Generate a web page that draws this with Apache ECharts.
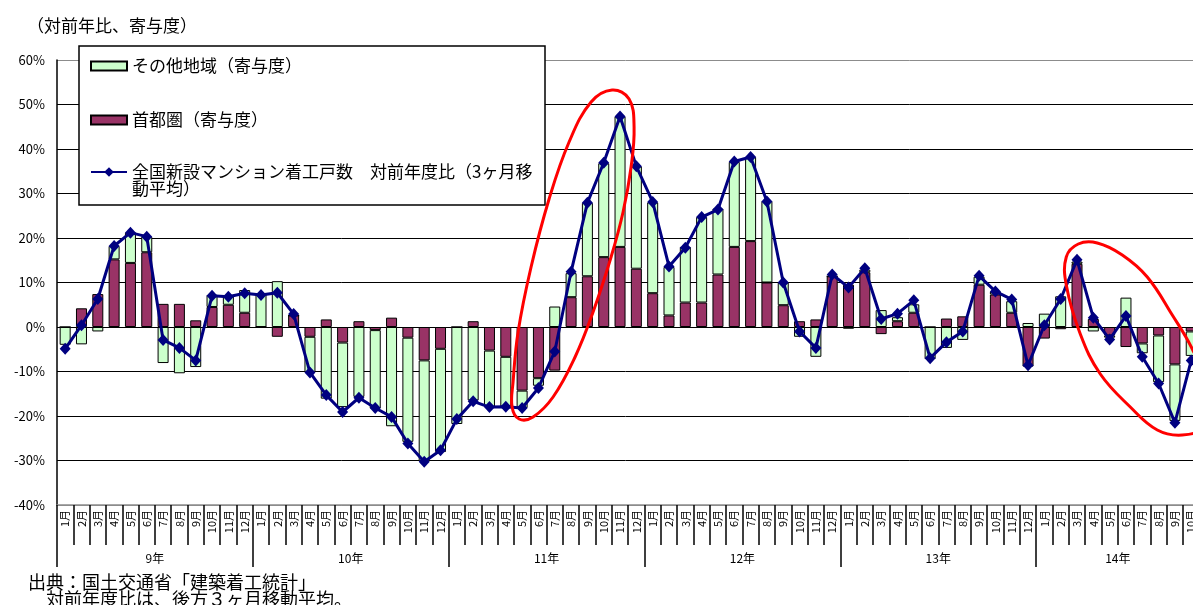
<!DOCTYPE html>
<html>
<head>
<meta charset="utf-8">
<script src="https://cdn.jsdelivr.net/npm/echarts@6/dist/echarts.min.js"></script>
<style>
  html, body { margin: 0; padding: 0; background: #ffffff; }
  #chart { width: 1193px; height: 605px; }
</style>
</head>
<body>
<div id="chart"></div>
<script>
// 年・月の区分（平成9年1月〜14年10月）
const yearNames = ['9年', '10年', '11年', '12年', '13年', '14年'];
const monthsPerYear = [12, 12, 12, 12, 12, 10];
const monthNames = ['1月', '2月', '3月', '4月', '5月', '6月', '7月', '8月', '9月', '10月', '11月', '12月'];

// 首都圏（寄与度, %）
const shutoken = [
  0.0, 4.2, 7.4, 15.2, 14.4, 16.8, 5.2, 5.2, 1.5, 4.5, 5.0, 3.2,
  0.0, -2.2, 2.6, -2.2, 1.7, -3.5, 1.3, -0.7, 2.1, -2.4, -7.5, -4.9,
  0.0, 1.3, -5.3, -6.7, -14.3, -11.5, -9.8, 6.7, 11.4, 15.7, 18.0, 13.1,
  7.6, 2.6, 5.5, 5.5, 11.8, 18.0, 19.3, 10.0, 4.9, 1.3, 1.7, 11.4,
  9.5, 12.3, -1.6, 1.3, 3.2, 0.0, 1.9, 2.4, 9.5, 7.3, 3.2, -8.9,
  -2.6, -0.5, 14.2, 1.8, -1.9, -4.5, -3.7, -1.9, -8.4, -1.0
];

// その他地域（寄与度, %）
const sonota = [
  -4.0, -3.9, -1.0, 3.0, 6.8, 3.5, -8.1, -10.4, -9.0, 2.7, 2.0, 5.1,
  7.5, 10.3, 0.0, -8.0, -16.1, -14.5, -15.7, -17.6, -22.3, -23.4, -22.7, -23.2,
  -21.8, -16.5, -12.7, -11.2, -3.9, -1.7, 4.6, 5.4, 16.5, 21.1, 29.3, 23.0,
  20.4, 10.9, 12.5, 19.2, 14.8, 19.1, 18.9, 18.3, 5.1, -2.2, -6.7, 0.0,
  -0.4, 0.6, 3.8, 0.9, 1.9, -7.2, -4.7, -2.9, 1.8, 0.7, 2.6, 0.9,
  3.0, 6.9, 0.5, -1.0, -0.5, 6.6, -2.2, -10.5, -12.7, -5.5
];

// 全国新設マンション着工戸数 対前年度比（3ヶ月移動平均, %）
const zenkoku = [
  -4.9, 0.4, 6.3, 18.2, 21.2, 20.3, -2.9, -4.7, -7.5, 7.0, 6.8, 7.6,
  7.2, 7.7, 2.9, -10.2, -15.3, -19.1, -15.9, -18.2, -20.2, -26.2, -30.3, -27.7,
  -20.7, -16.7, -18.0, -17.9, -18.2, -13.7, -5.5, 12.4, 27.9, 36.9, 47.3, 36.1,
  28.1, 13.6, 17.8, 24.7, 26.4, 37.2, 38.2, 28.2, 10.0, -1.0, -4.7, 11.8,
  8.9, 13.2, 1.8, 3.0, 6.0, -7.0, -3.4, -1.0, 11.5, 8.0, 6.2, -8.6,
  0.4, 6.3, 15.1, 2.1, -2.8, 2.5, -6.7, -12.7, -21.5, -7.5
];

// 縦軸目盛（%）
const yMin = -40, yMax = 60, yStep = 10;

const nameOther = 'その他地域（寄与度）';
const nameCapital = '首都圏（寄与度）';
const nameTotal = '全国新設マンション着工戸数　対前年度比（3ヶ月移動平均）';

const FONT = '"Noto Sans CJK JP", "Noto Sans", sans-serif';

// 月の区分（一意な名前: 年+月）と、年の区切り位置
const categories = [];
yearNames.forEach((y, yi) => {
  for (let m = 0; m < monthsPerYear[yi]; m++) categories.push(y + monthNames[m]);
});
const yearAxisPoints = new Array(categories.length + 1).fill('');
const yearStarts = [];
let start = 0;
yearNames.forEach((y, yi) => {
  yearStarts.push(start);
  yearAxisPoints[start + monthsPerYear[yi] / 2] = y;
  start += monthsPerYear[yi];
});

const splitColors = [];
for (let v = yMin; v <= yMax; v += yStep) {
  splitColors.push(v === yMin || v === yMax ? '#8c8c8c' : '#000000');
}

const chart = echarts.init(document.getElementById('chart'), null, { renderer: 'canvas' });

const legendText = { fontSize: 17, lineHeight: 17, color: '#000', fontFamily: FONT };

chart.setOption({
  animation: false,
  backgroundColor: '#ffffff',
  textStyle: { fontFamily: FONT },
  title: [
    { text: '（対前年比、寄与度）', left: 22, top: 12,
      textStyle: { fontSize: 17, fontWeight: 'normal', color: '#000', fontFamily: FONT } },
    { text: '出典：国土交通省「建築着工統計」', left: 28, top: 573, padding: 0,
      textStyle: { fontSize: 18, fontWeight: 'normal', color: '#000', fontFamily: FONT } },
    { text: '　対前年度比は、後方３ヶ月移動平均。', left: 28, top: 590, padding: 0,
      textStyle: { fontSize: 18, fontWeight: 'normal', color: '#000', fontFamily: FONT } }
  ],
  legend: [
    { left: 90, top: 57.5, padding: 0, selectedMode: false, z: 6,
      itemWidth: 36, itemHeight: 9,
      data: [{ name: nameOther, icon: 'rect' }],
      textStyle: legendText },
    { left: 90, top: 111.5, padding: 0, selectedMode: false, z: 6,
      itemWidth: 36, itemHeight: 9,
      data: [{ name: nameCapital, icon: 'rect' }],
      textStyle: legendText },
    { left: 90, top: 146.5, padding: 0, selectedMode: false, z: 6,
      itemWidth: 36, itemHeight: 12,
      data: [{ name: nameTotal }],
      // 先頭に空行を置き、記号を1行目の高さにそろえる
      formatter: (n) => '\n' + n.replace('移動', '移\n動'),
      textStyle: legendText }
  ],
  grid: { left: 57, top: 60, width: 1142.4, height: 445, outerBoundsMode: 'none', containLabel: false },
  xAxis: [
    {
      type: 'category', position: 'bottom', data: categories, boundaryGap: true,
      axisLine: { show: true, onZero: false, lineStyle: { color: '#8c8c8c', width: 1.5 } },
      axisTick: { show: true, interval: 0, length: 40, lineStyle: { color: '#000', width: 1.5 } },
      axisLabel: {
        interval: 0, rotate: 90, margin: 5, fontSize: 11, color: '#000', fontFamily: FONT,
        formatter: (v) => v.replace(/^\d+年/, '')
      },
      splitLine: { show: false }
    },
    {
      type: 'category', position: 'bottom', data: yearAxisPoints, boundaryGap: false,
      axisLine: { show: false, onZero: false },
      axisTick: { show: true, length: 62, interval: (i) => yearStarts.indexOf(i) >= 0,
                  lineStyle: { color: '#000', width: 1.5 } },
      axisLabel: { interval: 0, margin: 47, fontSize: 12, color: '#000', fontFamily: FONT },
      splitLine: { show: false }
    }
  ],
  yAxis: {
    type: 'value', min: yMin, max: yMax, interval: yStep,
    axisLine: { show: true, onZero: false, lineStyle: { color: '#000', width: 1.5 } },
    axisTick: { show: false },
    axisLabel: { margin: 12, fontSize: 13, color: '#000', fontFamily: FONT, formatter: '{value}%' },
    splitLine: { show: true, lineStyle: { color: splitColors, width: 1 } }
  },
  series: [
    {
      name: nameCapital, type: 'bar', stack: 'kiyo', data: shutoken, barWidth: 11,
      itemStyle: { color: '#993366', borderColor: '#000', borderWidth: 1 }
    },
    {
      name: nameOther, type: 'bar', stack: 'kiyo', data: sonota, barWidth: 11,
      itemStyle: { color: '#ccffcc', borderColor: '#000', borderWidth: 1 }
    },
    {
      name: nameTotal, type: 'line', data: zenkoku, z: 5,
      symbol: 'diamond', symbolSize: [11, 12], showSymbol: true, showAllSymbol: true,
      lineStyle: { color: '#000080', width: 3 },
      itemStyle: { color: '#000080' }
    }
  ]
});

// 凡例の枠と、注目区間を手書きで囲んだ赤い輪
// 輪の形は基準点（横軸の区分・縦軸0%の位置）からの相対座標で描く
const a1 = chart.convertToPixel({ xAxisIndex: 0, yAxisIndex: 0 }, [31, 0]);
const a2 = chart.convertToPixel({ xAxisIndex: 0, yAxisIndex: 0 }, [66, 0]);
const ring1 = [
  [41, -237], [58, -228], [63, -200], [60, -160], [52, -115], [40, -70], [22, -15],
  [4, 30], [-18, 70], [-38, 90], [-52, 92], [-59, 80], [-58, 55], [-53, 5],
  [-40, -60], [-22, -128], [-2, -185], [20, -225]
];
const ring2 = [
  [-45, -84], [-20, -72], [5, -50], [30, -12], [50, 22], [66, 62], [60, 100],
  [40, 108], [15, 103], [-12, 80], [-42, 47], [-62, 7], [-76, -42], [-76, -70], [-64, -83]
];
const shift = (anchor, pts) => pts.map(p => [anchor[0] + p[0], anchor[1] + p[1]]);

chart.setOption({
  graphic: [
    { id: 'legendFrame', type: 'rect', z: 3, silent: true,
      shape: { x: 79, y: 46, width: 466, height: 159 },
      style: { fill: '#ffffff', stroke: '#000', lineWidth: 1.5 } },
    { id: 'ring1', type: 'polygon', z: 20, silent: true,
      shape: { points: shift(a1, ring1), smooth: 0.4 },
      style: { fill: 'none', stroke: '#ff0000', lineWidth: 3 } },
    { id: 'ring2', type: 'polygon', z: 20, silent: true,
      shape: { points: shift(a2, ring2), smooth: 0.4 },
      style: { fill: 'none', stroke: '#ff0000', lineWidth: 3 } }
  ]
});
</script>
</body>
</html>
